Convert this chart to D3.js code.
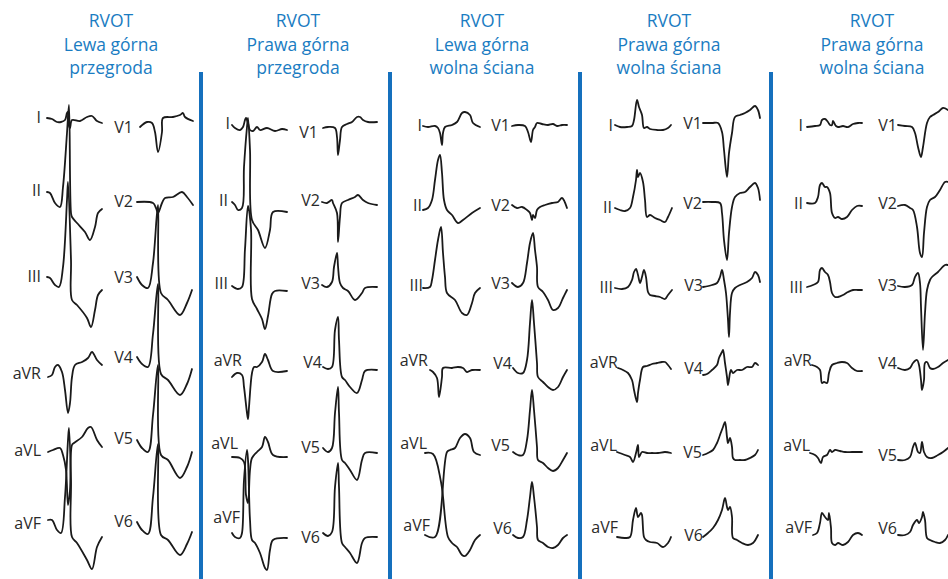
<!DOCTYPE html>
<html>
<head>
<meta charset="utf-8">
<script src="https://cdn.jsdelivr.net/npm/d3@7"></script>
<style>
  html, body { margin: 0; padding: 0; background: #ffffff; }
  svg { display: block; }
</style>
</head>
<body>
<div id="chart"></div>
<script>
// ECG: morfologia QRS przy pobudzeniach z RVOT (5 lokalizacji)

const panelTitles = [
    ["RVOT", "Lewa górna", "przegroda"],
    ["RVOT", "Prawa górna", "przegroda"],
    ["RVOT", "Lewa górna", "wolna ściana"],
    ["RVOT", "Prawa górna", "wolna ściana"],
    ["RVOT", "Prawa górna", "wolna ściana"]
];

const leadNames = ["I", "II", "III", "aVR", "aVL", "aVF", "V1", "V2", "V3", "V4", "V5", "V6"];

// próbki przebiegów: [czas, amplituda] (jednostki względne), kolejność jak leadNames
const lewaGornaPrzegroda = [
    [[0,0],[5,-1],[10,-4],[14,-4],[18,-2],[20,5],[21,6],[22,-8],[23,-10],[25,-2],[33,-3],[40,1],[45,2],[50,-3],[55,-5]],
    [[0,0],[3,-1],[8,-11],[13,-15],[16,5],[20,59],[22,87],[24,-21],[25,-25],[30,-31],[38,-40],[43,-48],[48,-35],[51,-21],[55,-17]],
    [[0,0],[3,-1],[8,-8],[12,-10],[16,10],[20,77],[21,95],[24,17],[25,-23],[30,-28],[40,-41],[44,-50],[48,-33],[51,-18],[55,-13]],
    [[1,0],[5,2],[8,10],[11,12],[15,5],[18,-13],[21,-36],[23,-26],[25,0],[28,12],[35,15],[41,19],[45,25],[50,17],[55,12]],
    [[1,0],[6,2],[13,4],[16,-3],[19,-18],[21,-53],[23,-38],[25,7],[27,9],[35,15],[41,24],[44,25],[50,12],[55,5]],
    [[1,0],[5,0],[10,-10],[14,-13],[18,23],[21,80],[22,92],[24,40],[25,-17],[30,-23],[40,-40],[45,-49],[50,-27],[55,-17]],
    [[3,0],[10,5],[15,4],[18,-5],[21,-25],[25,-5],[26,9],[36,10],[43,12],[46,14],[48,10],[56,6]],
    [[0,0],[16,-1],[19,-6],[21,-11],[25,-1],[28,4],[36,5],[45,10],[50,5],[56,-3]],
    [[0,0],[5,-8],[11,-11],[16,14],[21,72],[24,-16],[31,-23],[43,-38],[50,-26],[55,-13]],
    [[0,0],[5,-7],[11,-10],[16,23],[21,73],[24,-17],[31,-23],[43,-38],[50,-27],[55,-12]],
    [[0,0],[5,-8],[11,-12],[16,25],[21,75],[24,-15],[31,-20],[43,-38],[50,-27],[55,-12]],
    [[0,0],[5,-8],[11,-12],[16,25],[21,78],[24,-13],[31,-18],[43,-33],[50,-22],[55,-10]]
];

const prawaGornaPrzegroda = [
    [[0,0],[3,-3],[8,-5],[11,-2],[13,5],[14,7],[16,2],[18,-5],[21,-6],[25,-2],[28,-5],[35,-3],[43,-6],[50,-4],[55,-5]],
    [[0,0],[3,-3],[6,-8],[10,-6],[12,35],[15,75],[16,84],[18,52],[20,-18],[26,-28],[33,-46],[38,-28],[41,-10],[55,-10]],
    [[0,0],[6,-3],[10,-1],[13,37],[16,80],[19,57],[20,-13],[25,-23],[30,-33],[33,-43],[36,-30],[40,-8],[43,-5],[55,-5]],
    [[0,0],[5,4],[10,2],[12,-10],[15,-36],[16,-42],[17,-30],[20,4],[22,10],[25,10],[30,15],[33,23],[36,17],[41,6],[55,6]],
    [[0,0],[8,-1],[12,-5],[14,-38],[16,-46],[18,-13],[20,-1],[25,5],[30,10],[33,20],[36,15],[41,2],[55,0]],
    [[0,0],[3,-4],[8,-5],[10,0],[12,53],[15,83],[16,73],[18,13],[20,-7],[23,-10],[28,-20],[33,-35],[35,-37],[38,-17],[41,-7],[55,-5]],
    [[1,0],[6,1],[13,0],[15,-9],[16,-27],[18,-12],[20,1],[25,4],[30,6],[35,11],[38,11],[41,8],[46,6],[55,6]],
    [[0,0],[5,-1],[10,2],[11,-1],[15,-11],[16,-40],[18,-15],[20,-1],[26,2],[33,5],[36,7],[41,2],[46,-1],[55,-3]],
    [[0,0],[5,-2],[10,3],[12,18],[15,32],[16,19],[18,2],[21,-3],[26,-6],[33,-15],[40,-8],[43,-3],[55,-2]],
    [[1,0],[6,-2],[10,0],[13,37],[16,50],[17,27],[20,-10],[23,-13],[28,-20],[35,-26],[40,-13],[43,-4],[55,-3]],
    [[1,0],[6,-4],[10,0],[13,35],[16,61],[17,35],[20,-12],[23,-15],[28,-22],[35,-32],[40,-12],[43,-5],[55,-5]],
    [[1,0],[6,-3],[10,1],[13,46],[16,70],[17,46],[20,-10],[23,-14],[28,-20],[35,-30],[40,-10],[43,-5],[55,-4]]
];

const lewaGornaWolna = [
    [[0,0],[5,-1],[12,0],[15,-2],[17,-7],[19,-19],[20,-7],[22,-1],[29,1],[34,4],[39,13],[42,14],[47,11],[50,3],[57,-1]],
    [[0,0],[5,2],[9,10],[12,30],[15,50],[17,55],[19,37],[21,10],[24,0],[29,-5],[35,-13],[40,-10],[49,-3],[57,2]],
    [[0,0],[7,1],[9,8],[12,28],[15,48],[18,61],[20,35],[22,11],[24,-5],[32,-12],[39,-25],[44,-27],[49,-15],[52,-5],[57,0]],
    [[7,0],[10,-2],[14,-8],[16,-27],[19,-7],[20,2],[29,2],[35,3],[40,2],[44,-2],[49,0],[57,0]],
    [[2,0],[10,-1],[18,-29],[25,-84],[29,-90],[34,-94],[39,-102],[42,-103],[47,-97],[52,-87],[57,-82]],
    [[2,0],[12,-2],[24,83],[27,85],[32,87],[37,97],[42,101],[47,97],[51,83],[57,80]],
    [[0,0],[6,1],[13,0],[16,-6],[19,-16],[21,-4],[23,-1],[25,3],[30,2],[36,1],[41,2],[45,0],[50,1],[55,1]],
    [[0,0],[5,-3],[10,-2],[15,-5],[18,-8],[20,-15],[21,-10],[23,-13],[25,-5],[28,-2],[33,0],[40,2],[46,3],[50,7],[55,-3]],
    [[0,0],[6,-4],[11,0],[15,20],[18,40],[21,50],[23,33],[25,16],[26,-4],[31,-9],[36,-17],[41,-27],[46,-25],[51,-15],[55,-7]],
    [[1,0],[6,-5],[11,-5],[15,8],[18,45],[20,68],[22,45],[25,5],[26,-9],[31,-14],[36,-19],[41,-22],[46,-19],[51,-9],[55,-2]],
    [[1,0],[6,-3],[11,-3],[15,12],[18,42],[20,62],[22,42],[25,5],[26,-8],[31,-11],[36,-16],[41,-19],[46,-16],[51,-8],[55,-1]],
    [[1,0],[6,-3],[11,-2],[15,15],[18,38],[20,53],[22,38],[25,8],[26,-5],[31,-8],[36,-12],[41,-13],[46,-10],[51,-3],[55,0]]
];

const prawaGornaWolnaA = [
    [[0,0],[5,-2],[12,-2],[17,-1],[19,5],[22,25],[24,18],[27,10],[29,-3],[32,-2],[35,-4],[42,-5],[48,-5],[53,-3],[56,0]],
    [[0,0],[5,-2],[10,-3],[15,0],[18,11],[21,28],[22,38],[23,31],[25,35],[28,26],[30,8],[32,-9],[35,-7],[40,-10],[45,-12],[50,-14],[53,-9],[57,0]],
    [[0,0],[7,-1],[13,1],[17,8],[19,16],[21,19],[23,13],[25,5],[27,11],[29,18],[31,11],[33,-4],[35,-7],[40,-8],[45,-9],[50,-11],[53,-7],[57,-2]],
    [[3,0],[8,-2],[13,-5],[17,-12],[19,-22],[22,-34],[23,-25],[25,-12],[28,1],[32,2],[37,4],[42,5],[47,6],[50,6],[53,3],[56,-1]],
    [[2,0],[10,-3],[15,-5],[18,-10],[21,-1],[23,7],[24,-5],[27,0],[32,-1],[37,-1],[43,-1],[50,0],[56,-1]],
    [[2,0],[10,-1],[15,0],[18,17],[21,29],[23,20],[26,24],[27,22],[29,0],[31,-3],[35,-5],[42,-6],[48,-10],[53,-6],[56,0]],
    [[0,0],[9,0],[15,0],[19,-9],[21,-27],[24,-54],[26,-30],[29,-10],[32,6],[37,8],[42,10],[47,13],[52,17],[55,13],[57,5]],
    [[0,0],[9,0],[17,-1],[19,-11],[21,-38],[24,-58],[26,-31],[29,-5],[32,5],[37,9],[42,10],[47,15],[52,19],[55,14],[57,2]],
    [[0,0],[9,2],[14,4],[17,10],[19,17],[21,7],[23,-6],[25,-33],[26,-50],[27,-26],[29,-6],[32,-1],[37,2],[44,5],[49,9],[52,15],[55,12],[57,5]],
    [[0,0],[4,1],[9,5],[14,10],[16,17],[19,23],[20,25],[22,12],[24,-2],[25,-10],[27,2],[28,5],[30,2],[34,5],[39,5],[44,8],[49,8],[52,12],[55,10]],
    [[0,0],[5,2],[10,5],[14,12],[17,20],[20,28],[22,33],[24,18],[25,12],[27,17],[29,8],[30,-3],[32,-5],[37,-5],[42,-5],[47,-3],[52,0],[55,5]],
    [[0,0],[5,4],[10,9],[15,17],[19,27],[22,39],[24,30],[25,27],[27,30],[29,20],[30,-1],[34,-3],[39,-6],[45,-8],[50,-6],[55,2]]
];

const prawaGornaWolnaB = [
    [[0,0],[8,1],[13,2],[15,7],[18,8],[21,5],[23,2],[25,2],[26,6],[29,1],[31,0],[36,1],[41,0],[46,3],[51,4],[55,4]],
    [[0,0],[8,0],[11,6],[13,18],[15,20],[18,16],[20,16],[23,10],[25,-10],[28,-15],[31,-14],[35,-16],[40,-14],[45,-7],[50,-3],[55,-3]],
    [[0,0],[6,2],[11,5],[13,17],[15,19],[18,15],[21,12],[23,5],[25,-6],[28,-10],[31,-10],[36,-8],[41,-5],[46,-3],[51,-3],[55,-3]],
    [[5,0],[10,-2],[13,-5],[15,-18],[17,-17],[20,-18],[22,-8],[25,0],[30,2],[35,3],[40,2],[45,-3],[50,-6],[55,-6]],
    [[3,0],[8,-2],[11,-5],[14,-10],[16,-4],[20,-2],[23,3],[25,1],[28,3],[33,2],[38,1],[45,1],[50,1],[55,1]],
    [[6,0],[10,2],[13,12],[15,22],[18,18],[21,15],[22,22],[24,7],[25,-8],[28,-10],[31,-8],[36,-10],[41,-7],[46,0],[51,2],[55,0]],
    [[0,0],[7,-1],[14,-2],[17,-8],[20,-22],[23,-32],[25,-22],[29,2],[32,8],[35,10],[40,13],[45,17],[50,15]],
    [[0,0],[7,1],[12,-2],[15,-4],[19,-21],[22,-47],[24,-51],[26,-27],[29,-1],[32,6],[37,9],[42,16],[47,24],[50,24]],
    [[0,0],[7,-1],[14,1],[17,9],[20,13],[22,3],[23,-21],[25,-64],[27,-27],[29,-4],[32,6],[34,9],[40,14],[47,21],[50,21]],
    [[0,0],[7,-2],[12,0],[15,5],[19,8],[21,3],[23,-12],[24,-22],[26,-12],[27,5],[29,6],[32,0],[35,-1],[40,1],[45,5],[50,8]],
    [[0,0],[7,0],[12,3],[15,13],[17,17],[20,8],[22,7],[24,18],[26,8],[29,3],[34,2],[40,5],[45,8],[50,12]],
    [[0,0],[7,0],[12,3],[15,10],[19,15],[21,12],[24,18],[25,23],[27,15],[29,-3],[32,-5],[37,-7],[42,-8],[47,-5],[50,0]]
];

// układ strony (pozycje w pikselach)
const W = 948, H = 579;
const blue = "#1a7cc2";
const ink = "#1a1a1a";

const layout = [
    { cx: 111, xL: 47, xR: 137,
      base: [118, 192, 277, 377, 452, 520, 127, 202, 277, 357, 440, 522],
      lab: [[-6,-1],[-6,-2],[-6,-1],[-6,-4],[-6,-2],[-6,3],[-4,0],[-4,-1],[-4,0],[-4,0],[-4,-2],[-4,-1]] },
    { cx: 298, xL: 232, xR: 322,
      base: [125, 202, 286, 377, 457, 533, 128, 202, 285, 367, 448, 533],
      lab: [[-2,-2],[-4,-2],[-4,-3],[10,-17],[6,-14],[8,-16],[-4,4],[-2,-2],[-2,-2],[0,-5],[-2,-1],[-2,4]] },
    { cx: 482, xL: 423, xR: 512,
      base: [126, 210, 288, 370, 453, 535, 126, 205, 283, 368, 452, 535],
      lab: [[-1,-1],[-1,-5],[0,-3],[5,-10],[4,-10],[7,-10],[-2,-1],[-2,0],[-2,0],[0,-5],[-2,-7],[0,-7]] },
    { cx: 669, xL: 615, xR: 703,
      base: [125, 208, 288, 368, 452, 537, 123, 202, 287, 375, 455, 537],
      lab: [[-2,0],[-3,-1],[-2,-1],[3,-6],[2,-7],[3,-10],[-1,0],[-1,1],[0,-2],[0,-7],[-1,-3],[0,-2]] },
    { cx: 872, xL: 807, xR: 898,
      base: [127, 203, 287, 365, 453, 535, 125, 206, 286, 368, 460, 535],
      lab: [[-4,-2],[-4,0],[-4,0],[5,-5],[3,-8],[5,-8],[-1,0],[-1,-3],[-1,-1],[-1,-5],[-1,-5],[-1,-7]] }
];
const panelData = [lewaGornaPrzegroda, prawaGornaPrzegroda, lewaGornaWolna, prawaGornaWolnaA, prawaGornaWolnaB];
const separators = [201, 390, 580, 771];

const svg = d3.select("#chart").append("svg")
    .attr("width", W)
    .attr("height", H)
    .style("font-family", "'Open Sans', sans-serif");

// linie podziału
svg.selectAll("line.sep")
    .data(separators)
    .enter()
    .append("line")
    .attr("class", "sep")
    .attr("x1", d => d)
    .attr("x2", d => d)
    .attr("y1", 72)
    .attr("y2", H)
    .attr("stroke", "#1570bd")
    .attr("stroke-width", 4);

layout.forEach((p, pi) => {
    const g = svg.append("g");

    // tytuł panelu
    g.append("text")
        .attr("x", p.cx)
        .attr("text-anchor", "middle")
        .attr("fill", blue)
        .style("font-size", "17.5px")
        .selectAll("tspan")
        .data(panelTitles[pi])
        .enter()
        .append("tspan")
        .attr("x", p.cx)
        .attr("y", (d, i) => 27 + i * 23.5)
        .text(d => d);

    panelData[pi].forEach((trace, li) => {
        const x0 = li < 6 ? p.xL : p.xR;
        const y0 = p.base[li];

        const x = d3.scaleLinear().domain([0, 60]).range([x0, x0 + 60]);
        const y = d3.scaleLinear().domain([-120, 120]).range([y0 + 120, y0 - 120]);

        const line = d3.line()
            .x(d => x(d[0]))
            .y(d => y(d[1]))
            .curve(d3.curveCatmullRom.alpha(0.5));

        g.append("path")
            .datum(trace)
            .attr("fill", "none")
            .attr("stroke", ink)
            .attr("stroke-width", 1.8)
            .attr("stroke-linejoin", "round")
            .attr("stroke-linecap", "round")
            .attr("d", line);

        // etykieta odprowadzenia
        g.append("text")
            .attr("x", x(0) + p.lab[li][0])
            .attr("y", y(0) + p.lab[li][1])
            .attr("text-anchor", "end")
            .attr("dominant-baseline", "central")
            .attr("fill", "#2a2a2a")
            .style("font-size", "16px")
            .text(leadNames[li]);
    });
});
</script>
</body>
</html>
